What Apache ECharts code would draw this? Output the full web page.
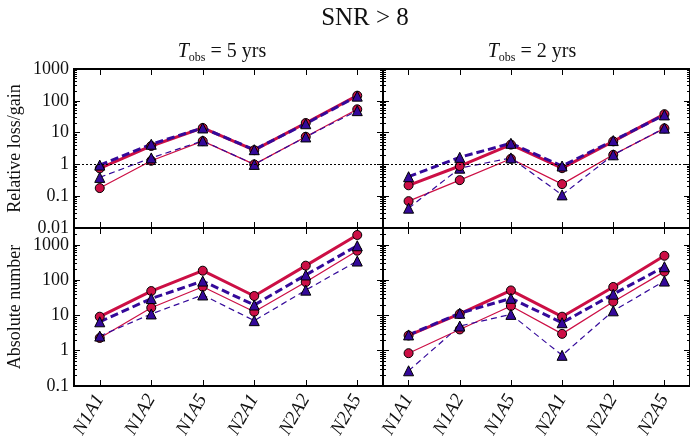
<!DOCTYPE html>
<html><head><meta charset="utf-8">
<script src="https://cdn.jsdelivr.net/npm/echarts@6/dist/echarts.min.js"></script>
<style>html,body{margin:0;padding:0;background:#fff}#c{width:690px;height:443px}</style>
</head><body><div id="c"></div>
<script>
var categories = ['N1A1','N1A2','N1A5','N2A1','N2A2','N2A5'];
var relTicks = [0.01, 0.1, 1, 10, 100, 1000];
var absTicks = [0.1, 1, 10, 100, 1000];

// Relative loss/gain, Tobs = 5 yrs
var rel5ThickRed  = [0.75, 3.8, 14, 2.8, 20, 145];
var rel5ThickBlue = [0.95, 4.3, 14, 2.9, 19, 140];
var rel5ThinRed   = [0.18, 1.3, 5.4, 1.0, 7.4, 54];
var rel5ThinBlue  = [0.39, 1.6, 5.5, 1.0, 7.3, 49];
// Relative loss/gain, Tobs = 2 yrs
var rel2ThickRed  = [0.22, 0.89, 4.2, 0.76, 5.3, 38];
var rel2ThickBlue = [0.41, 1.67, 4.6, 0.89, 5.6, 36];
var rel2ThinRed   = [0.07, 0.32, 1.5, 0.24, 2.0, 13.6];
var rel2ThinBlue  = [0.042, 0.76, 1.6, 0.11, 2.0, 13.8];
// Absolute number, Tobs = 5 yrs
var abs5ThickRed  = [9.2, 49, 185, 35.5, 257, 1900];
var abs5ThickBlue = [6.6, 30, 94, 19.7, 140, 944];
var abs5ThinRed   = [2.3, 16.5, 65, 12.7, 88, 680];
var abs5ThinBlue  = [2.6, 11, 38, 7.1, 52, 347];
// Absolute number, Tobs = 2 yrs
var abs2ThickRed  = [2.7, 11, 51, 9.2, 64, 490];
var abs2ThickBlue = [2.8, 11.5, 30.5, 6.2, 40, 240];
var abs2ThinRed   = [0.85, 4.0, 18.5, 3.0, 24.5, 174];
var abs2ThinBlue  = [0.27, 5.0, 10.7, 0.74, 13.5, 94];

var RED = '#cc0f45', BLUE = '#34099a';
var FONT = "'Liberation Serif', 'DejaVu Serif', serif";
var chart = echarts.init(document.getElementById('c'), null, {renderer:'canvas'});

var grids = [
  {left:74, top:69, width:309, height:159},
  {left:383, top:69, width:309, height:159},
  {left:74, top:228, width:309, height:158},
  {left:383, top:228, width:309, height:158}
];
grids.forEach(function(g){ g.show = true; g.borderColor = '#000'; g.borderWidth = 2; g.backgroundColor = 'transparent'; });

var ranges = [[0.01,1000],[0.01,1000],[0.1,3000],[0.1,3000]];
var xAxes = [], yAxes = [];
for (var side = 0; side < 2; side++) {
  for (var i = 0; i < 4; i++) {
    var showLab = side === 0 && i >= 2;
    xAxes.push({
      type:'category', data:categories, gridIndex:i, position: side === 0 ? 'bottom' : 'top',
      boundaryGap:true,
      axisLine:{show:false},
      axisTick:{show:true, inside:true, alignWithLabel:true, length:6, lineStyle:{color:'#000', width:1}},
      axisLabel:{show:showLab, rotate:60, margin:10, fontFamily:FONT, fontStyle:'italic', fontSize:19, color:'#111'},
      splitLine:{show:false}
    });
  }
}
for (var side2 = 0; side2 < 2; side2++) {
  for (var j = 0; j < 4; j++) {
    var showY = side2 === 0 && (j === 0 || j === 2);
    var ax = {
      type:'log', logBase:10, gridIndex:j, min:ranges[j][0], max:ranges[j][1],
      position: side2 === 0 ? 'left' : 'right',
      axisLine:{show:false},
      axisTick:{show:true, inside:true, length:6, lineStyle:{color:'#000', width:1}},
      minorTick:{show:true, splitNumber:9, length:3, lineStyle:{color:'#000', width:1}},
      axisLabel:{show:showY, fontFamily:FONT, fontSize:18, color:'#111', margin:5,
        showMaxLabel: j < 2, showMinLabel:true,
        formatter:function(v){ return String(+Number(v).toPrecision(3)); }},
      splitLine:{show:false}, minorSplitLine:{show:false}
    };
    if (side2 === 0 && j === 0) {
      ax.name = 'Relative loss/gain'; ax.nameLocation = 'middle'; ax.nameGap = 50;
      ax.nameTextStyle = {fontFamily:FONT, fontSize:18, color:'#111'};
    }
    if (side2 === 0 && j === 2) {
      ax.name = 'Absolute number'; ax.nameLocation = 'middle'; ax.nameGap = 50;
      ax.nameTextStyle = {fontFamily:FONT, fontSize:18, color:'#111'};
    }
    yAxes.push(ax);
  }
}

function mk(data, idx, color, thick, dashed, symbol, markOne) {
  var s = {
    type:'line', data:data, xAxisIndex:idx, yAxisIndex:idx,
    symbol:symbol, symbolSize: symbol === 'circle' ? 9 : 10,
    itemStyle:{color:color, borderColor:'#000', borderWidth:1},
    lineStyle:{color:color, width: thick ? 3 : 1.2, type: dashed ? (thick ? [8,4] : [6,4]) : 'solid'},
    animation:false, silent:true, z: thick ? 3 : 2
  };
  if (markOne) {
    s.markLine = {silent:true, symbol:'none', label:{show:false}, animation:false,
      lineStyle:{type:[2,2], color:'#000', width:1}, data:[{yAxis:1}]};
  }
  return s;
}

var series = [
  mk(rel5ThinRed, 0, RED, false, false, 'circle', true),
  mk(rel5ThickRed, 0, RED, true, false, 'circle'),
  mk(rel5ThinBlue, 0, BLUE, false, true, 'triangle'),
  mk(rel5ThickBlue, 0, BLUE, true, true, 'triangle'),
  mk(rel2ThinRed, 1, RED, false, false, 'circle', true),
  mk(rel2ThickRed, 1, RED, true, false, 'circle'),
  mk(rel2ThinBlue, 1, BLUE, false, true, 'triangle'),
  mk(rel2ThickBlue, 1, BLUE, true, true, 'triangle'),
  mk(abs5ThinRed, 2, RED, false, false, 'circle'),
  mk(abs5ThickRed, 2, RED, true, false, 'circle'),
  mk(abs5ThinBlue, 2, BLUE, false, true, 'triangle'),
  mk(abs5ThickBlue, 2, BLUE, true, true, 'triangle'),
  mk(abs2ThinRed, 3, RED, false, false, 'circle'),
  mk(abs2ThickRed, 3, RED, true, false, 'circle'),
  mk(abs2ThinBlue, 3, BLUE, false, true, 'triangle'),
  mk(abs2ThickBlue, 3, BLUE, true, true, 'triangle')
];

var subRich = {
  t:{fontFamily:FONT, fontStyle:'italic', fontSize:20, lineHeight:24, fill:'#111'},
  s:{fontFamily:FONT, fontSize:12, lineHeight:13, verticalAlign:'bottom', fill:'#111'},
  n:{fontFamily:FONT, fontSize:20, lineHeight:24, fill:'#111'}
};

chart.setOption({
  animation:false,
  backgroundColor:'#fff',
  grid:grids, xAxis:xAxes, yAxis:yAxes, series:series,
  graphic:[
    {type:'text', x:365, y:18, style:{text:'SNR > 8', font:"25px " + FONT, fill:'#111', align:'center', verticalAlign:'middle'}},
    {type:'text', x:222, y:52, style:{text:'{t|T}{s|obs}{n| = 5 yrs}', rich:subRich, align:'center', verticalAlign:'middle'}},
    {type:'text', x:532, y:52, style:{text:'{t|T}{s|obs}{n| = 2 yrs}', rich:subRich, align:'center', verticalAlign:'middle'}}
  ]
});
</script></body></html>
